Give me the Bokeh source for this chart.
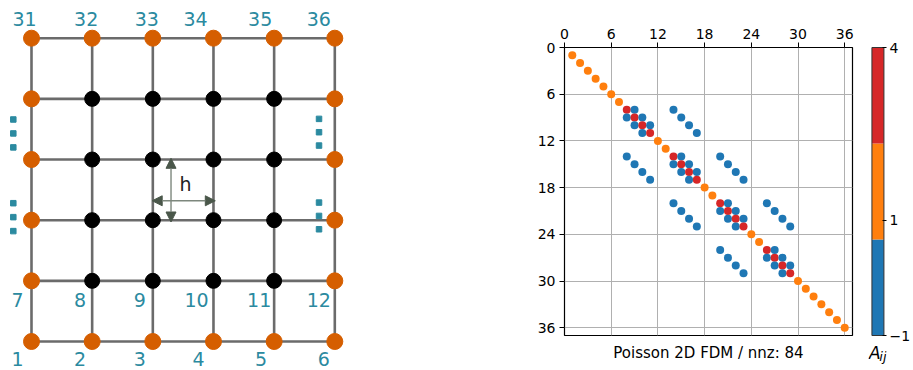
from bokeh.plotting import figure
from bokeh.layouts import row, column
from bokeh.models import (Range1d, FixedTicker, LinearAxis, Arrow, NormalHead,
                          LinearColorMapper, ColumnDataSource)
from bokeh.transform import linear_cmap
from bokeh.embed import file_html
from bokeh.resources import INLINE
from bokeh.core.properties import value

FONT = "DejaVu Sans"

# ---------------- mesh of 6 x 6 nodes ----------------
n_side = 6
boundary_ids = [1, 2, 3, 4, 5, 6, 7, 12, 13, 18, 19, 24, 25, 30, 31, 32, 33, 34, 35, 36]
interior_ids = [8, 9, 10, 11, 14, 15, 16, 17, 20, 21, 22, 23, 26, 27, 28, 29]
labelled_ids = [31, 32, 33, 34, 35, 36, 7, 8, 9, 10, 11, 12, 1, 2, 3, 4, 5, 6]
# pixel offsets of each node number relative to its node
label_dx = [-7, -6, -6, -18, -14, -16, -14, -12, -13, -17, -15, -16, -14, -12, -13, -15, -13, -11]
label_dy = [-19, -19, -19, -19, -19, -19, 19, 19, 19, 19, 19, 19, 17, 17, 17, 17, 17, 17]

# ---------------- Poisson 2D FDM matrix (1-based row / column, value) ----------------
nz_row = [1, 2, 3, 4, 5, 6, 7,
          8, 8, 8,
          9, 9, 9, 9,
          10, 10, 10, 10,
          11, 11, 11,
          12, 13,
          14, 14, 14, 14,
          15, 15, 15, 15, 15,
          16, 16, 16, 16, 16,
          17, 17, 17, 17,
          18, 19,
          20, 20, 20, 20,
          21, 21, 21, 21, 21,
          22, 22, 22, 22, 22,
          23, 23, 23, 23,
          24, 25,
          26, 26, 26,
          27, 27, 27, 27,
          28, 28, 28, 28,
          29, 29, 29,
          30, 31, 32, 33, 34, 35, 36]
nz_col = [1, 2, 3, 4, 5, 6, 7,
          8, 9, 14,
          8, 9, 10, 15,
          9, 10, 11, 16,
          10, 11, 17,
          12, 13,
          8, 14, 15, 20,
          9, 14, 15, 16, 21,
          10, 15, 16, 17, 22,
          11, 16, 17, 23,
          18, 19,
          14, 20, 21, 26,
          15, 20, 21, 22, 27,
          16, 21, 22, 23, 28,
          17, 22, 23, 29,
          24, 25,
          20, 26, 27,
          21, 26, 27, 28,
          22, 27, 28, 29,
          23, 28, 29,
          30, 31, 32, 33, 34, 35, 36]
nz_val = [1, 1, 1, 1, 1, 1, 1,
          4, -1, -1,
          -1, 4, -1, -1,
          -1, 4, -1, -1,
          -1, 4, -1,
          1, 1,
          -1, 4, -1, -1,
          -1, -1, 4, -1, -1,
          -1, -1, 4, -1, -1,
          -1, -1, 4, -1,
          1, 1,
          -1, 4, -1, -1,
          -1, -1, 4, -1, -1,
          -1, -1, 4, -1, -1,
          -1, -1, 4, -1,
          1, 1,
          -1, 4, -1,
          -1, -1, 4, -1,
          -1, -1, 4, -1,
          -1, -1, 4,
          1, 1, 1, 1, 1, 1, 1]

spy_ticks = [0, 6, 12, 18, 24, 30, 36]
cbar_ticks = [-1, 1, 4]
value_palette = ["#1f77b4", "#ff7f0e", "#d62728"]

TEAL = "#2b8aa0"
ORANGE = "#d55e00"


def node_xy(n):
    return (n - 1) % n_side, (n - 1) // n_side


# ================= left panel: the mesh =================
px = 60.66  # pixels per mesh spacing
mesh = figure(width=360, height=370,
              x_range=Range1d(-31 / px, (360 - 31) / px),
              y_range=Range1d(-29 / px, 341 / px),
              output_backend="svg", toolbar_location=None,
              min_border=0, outline_line_color=None)
mesh.axis.visible = False
mesh.grid.visible = False

k = list(range(n_side))
mesh.segment(x0=[0] * n_side, y0=k, x1=[n_side - 1] * n_side, y1=k,
             line_color="#6b6b6b", line_width=2.6)
mesh.segment(x0=k, y0=[0] * n_side, x1=k, y1=[n_side - 1] * n_side,
             line_color="#6b6b6b", line_width=2.6)

bx = [node_xy(n)[0] for n in boundary_ids]
by = [node_xy(n)[1] for n in boundary_ids]
ix = [node_xy(n)[0] for n in interior_ids]
iy = [node_xy(n)[1] for n in interior_ids]
mesh.scatter(bx, by, size=16, fill_color=ORANGE, line_color=ORANGE)
mesh.scatter(ix, iy, size=15, fill_color="black", line_color="black")

for n, dx, dy in zip(labelled_ids, label_dx, label_dy):
    x, y = node_xy(n)
    mesh.text(x=[x], y=[y], text=[str(n)], x_offset=dx, y_offset=dy,
              text_align="center", text_baseline="middle",
              text_font=value(FONT), text_font_size="19px", text_color=TEAL)

# vertical ellipsis marks along the left and right edges
ell_x = [-0.3] * 6 + [4.74] * 6
ell_y = [3.66, 3.43, 3.20, 2.28, 2.05, 1.82, 3.67, 3.45, 3.23, 2.29, 2.07, 1.85]
mesh.scatter(ell_x, ell_y, marker="square", size=5.5, fill_color=TEAL, line_color=TEAL)

# mesh spacing h
arrow_col = "#4a574a"
mesh.add_layout(Arrow(x_start=1.99, y_start=2.32, x_end=3.03, y_end=2.32,
                      line_color="#7d877d", line_width=1.4,
                      start=NormalHead(size=10, fill_color=arrow_col, line_color=arrow_col),
                      end=NormalHead(size=10, fill_color=arrow_col, line_color=arrow_col)))
mesh.add_layout(Arrow(x_start=2.30, y_start=3.02, x_end=2.30, y_end=1.97,
                      line_color="#7d877d", line_width=1.4,
                      start=NormalHead(size=10, fill_color=arrow_col, line_color=arrow_col),
                      end=NormalHead(size=10, fill_color=arrow_col, line_color=arrow_col)))
mesh.text(x=[2.54], y=[2.60], text=["h"], text_align="center", text_baseline="middle",
          text_font=value(FONT), text_font_size="19px", text_color="#222222")

# ================= middle panel: sparsity pattern =================
mapper = LinearColorMapper(palette=value_palette, low=-1, high=4)

spy = figure(width=500, height=370,
             x_range=Range1d(0, 37), y_range=Range1d(37, 0),
             x_axis_location="above",
             output_backend="svg", toolbar_location=None,
             min_border_left=204, min_border_right=8,
             min_border_top=47, min_border_bottom=35,
             outline_line_color="black", outline_line_width=1.2)
for ax in (spy.xaxis[0], spy.yaxis[0]):
    ax.ticker = FixedTicker(ticks=spy_ticks)
    ax.axis_line_color = None
    ax.major_tick_out = 5
    ax.major_tick_in = 0
    ax.major_tick_line_color = "black"
    ax.minor_tick_line_color = None
    ax.major_label_standoff = 4
    ax.major_label_text_font = FONT
    ax.major_label_text_font_size = "14px"
    ax.major_label_text_color = "black"
spy.grid.grid_line_color = "#b0b0b0"
spy.grid.grid_line_width = 1

nz_source = ColumnDataSource(data=dict(col=nz_col, row=nz_row, v=nz_val))
spy.scatter(x="col", y="row", size=8,
            fill_color=linear_cmap("v", value_palette, -1, 4),
            line_color=None, source=nz_source)

# caption under the matrix, carried by a tick-less bottom axis
caption_axis = LinearAxis(ticker=FixedTicker(ticks=[]),
                          axis_label=f"Poisson 2D FDM / nnz: {len(nz_val)}",
                          axis_line_color=None, major_tick_line_color=None,
                          minor_tick_line_color=None, major_tick_out=0, major_tick_in=0,
                          major_label_standoff=0, axis_label_standoff=8,
                          axis_label_text_font=FONT, axis_label_text_font_size="15px",
                          axis_label_text_font_style="normal", axis_label_text_color="black")
spy.add_layout(caption_axis, "below")

# ================= colour bar =================
cb_px = 57.6  # pixels per unit of A_ij along the bar
cbar = figure(width=53, height=370,
              x_range=Range1d(-4 / 14, 17 / 14),
              y_range=Range1d(mapper.low - 35 / cb_px, mapper.high + 1 / cb_px),
              y_axis_location="right",
              output_backend="svg", toolbar_location=None,
              min_border_left=8, min_border_right=24,
              min_border_top=46, min_border_bottom=0,
              outline_line_color=None)
cbar.xaxis.visible = False
cbar.grid.visible = False
n_bins = len(value_palette)
step = (mapper.high - mapper.low) / n_bins
edges = [mapper.low + i * step for i in range(n_bins + 1)]
cbar.quad(left=0, right=1, bottom=edges[:-1], top=edges[1:],
          fill_color=value_palette, line_color=None)
cbar.quad(left=[0], right=[1], bottom=[mapper.low], top=[mapper.high],
          fill_color=None, line_color="#333333", line_width=1)
yax = cbar.yaxis[0]
yax.ticker = FixedTicker(ticks=cbar_ticks)
yax.major_label_overrides = {t: str(t).replace("-", "\u2212") for t in cbar_ticks}
yax.axis_line_color = None
yax.major_tick_out = 0
yax.major_tick_in = 4
yax.major_tick_line_color = "black"
yax.minor_tick_line_color = None
yax.major_label_standoff = 3
yax.major_label_text_font = FONT
yax.major_label_text_font_size = "14px"
yax.major_label_text_color = "black"
cbar.text(x=[-0.25], y=[mapper.low - 17.7 / cb_px], text=["A"],
          text_align="left", text_baseline="alphabetic",
          text_font=value(FONT), text_font_style="italic", text_font_size="17px",
          text_color="black")
cbar.text(x=[0.62], y=[mapper.low - 20.5 / cb_px], text=["ij"],
          text_align="left", text_baseline="alphabetic",
          text_font=value(FONT), text_font_style="italic", text_font_size="13px",
          text_color="black")

layout = row(column(mesh), column(spy), column(cbar))
open("out.html", "w").write(file_html(layout, INLINE))
